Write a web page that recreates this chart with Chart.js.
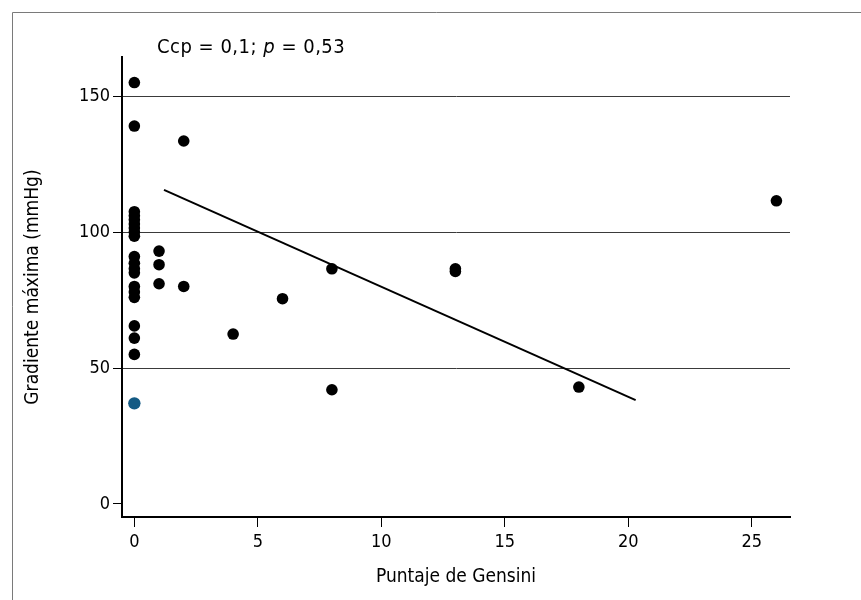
<!DOCTYPE html>
<html>
<head>
<meta charset="utf-8">
<script src="https://cdn.jsdelivr.net/npm/chart.js@4.4.1/dist/chart.umd.min.js"></script>
<style>
  html, body { margin: 0; padding: 0; background: #fff; }
  #wrap { width: 861px; height: 600px; }
</style>
</head>
<body>
<div id="wrap"><canvas id="c" width="861" height="600"></canvas></div>
<script>
// ---- data ----
const gensiniX = [0,0,0,0,0,0,0,0,0,0,0,0,0,0,0,0,0,0,0, 1,1,1, 2,2, 4, 6, 8,8, 13,13, 18, 26];
const gradienteY = [155,139,107.5,106,104.5,103,101.5,100,98.5,91,88.5,86.5,85,80,78,76,65.5,61,55,
                    93,88,81, 133.5,80, 62.5, 75.5, 86.5,42, 86.5,85.5, 43, 111.5];
const highlightX = [0];
const highlightY = [37];
const fitX = [1.2, 20.3];
const fitY = [115.5, 38.2];
const xTicks = [0, 5, 10, 15, 20, 25];
const yTicks = [0, 50, 100, 150];
const xTitle = 'Puntaje de Gensini';
const yTitle = 'Gradiente máxima (mmHg)';
const annotationParts = [['Ccp = 0,1; ', 'normal'], ['p', 'italic'], [' = 0,53', 'normal']];

const FONT = "'Liberation Sans Narrow', 'DejaVu Sans Condensed', 'Arial Narrow', sans-serif";

const toPts = (xs, ys) => xs.map((x, i) => ({x: x, y: ys[i]}));

const framePlugin = {
  id: 'frame',
  beforeDraw(chart) {
    const ctx = chart.ctx;
    ctx.save();
    ctx.strokeStyle = '#7a7a7a';
    ctx.lineWidth = 1;
    ctx.beginPath();
    ctx.moveTo(12.5, 600);
    ctx.lineTo(12.5, 12.5);
    ctx.lineTo(861, 12.5);
    ctx.stroke();
    ctx.restore();
  }
};

const annotationPlugin = {
  id: 'annot',
  afterDraw(chart) {
    const ctx = chart.ctx;
    const a = chart.chartArea;
    let x = a.left + 35;
    const y = a.top - 4;
    ctx.save();
    ctx.fillStyle = '#000';
    ctx.textBaseline = 'alphabetic';
    ctx.textAlign = 'left';
    if ('letterSpacing' in ctx) ctx.letterSpacing = '0.5px';
    annotationParts.forEach(([t, style]) => {
      ctx.font = style + ' 20px ' + FONT;
      ctx.fillText(t, x, y);
      x += ctx.measureText(t).width;
    });
    ctx.restore();
  }
};

new Chart(document.getElementById('c'), {
  type: 'scatter',
  data: {
    datasets: [
      {
        type: 'line',
        data: toPts(fitX, fitY),
        borderColor: '#000',
        borderWidth: 2,
        pointRadius: 0,
        fill: false,
        order: 2
      },
      {
        data: toPts(gensiniX, gradienteY),
        backgroundColor: '#000',
        borderColor: '#000',
        borderWidth: 0,
        pointRadius: 5.8,
        order: 1
      },
      {
        data: toPts(highlightX, highlightY),
        backgroundColor: '#135a84',
        borderColor: '#135a84',
        borderWidth: 0,
        pointRadius: 6.2,
        order: 1
      }
    ]
  },
  options: {
    responsive: false,
    animation: false,
    events: [],
    layout: { padding: { left: 0, top: 57, right: 71, bottom: 0 } },
    plugins: { legend: { display: false }, tooltip: { enabled: false } },
    scales: {
      x: {
        type: 'linear',
        min: -0.5,
        max: 26.55,
        afterFit(s) { s.height = 83; },
        afterBuildTicks(s) { s.ticks = xTicks.map(v => ({value: v})); },
        border: { display: true, color: '#000', width: 2 },
        grid: { drawOnChartArea: false, drawTicks: true, tickLength: 10, tickColor: '#000', lineWidth: 1 },
        ticks: { color: '#000', padding: 5, font: { family: FONT, size: 18 }, maxRotation: 0, autoSkip: false },
        title: { display: true, text: xTitle, color: '#000', font: { family: FONT, size: 19 }, padding: { top: 0, bottom: 12 } }
      },
      y: {
        type: 'linear',
        min: -4.8,
        max: 164.4,
        afterFit(s) { s.width = 122; },
        afterBuildTicks(s) { s.ticks = yTicks.map(v => ({value: v})); },
        border: { display: true, color: '#000', width: 2 },
        grid: {
          drawOnChartArea: true,
          drawTicks: true,
          tickLength: 9,
          lineWidth: 1,
          color: ctx => (ctx.tick && ctx.tick.value === 0) ? 'rgba(0,0,0,0)' : '#3a3a3a',
          tickColor: '#000'
        },
        ticks: { color: '#000', padding: 3, font: { family: FONT, size: 18 }, autoSkip: false },
        title: { display: true, text: yTitle, color: '#000', font: { family: FONT, size: 19 }, padding: { top: 22, bottom: 0 } }
      }
    }
  },
  plugins: [framePlugin, annotationPlugin]
});
</script>
</body>
</html>
